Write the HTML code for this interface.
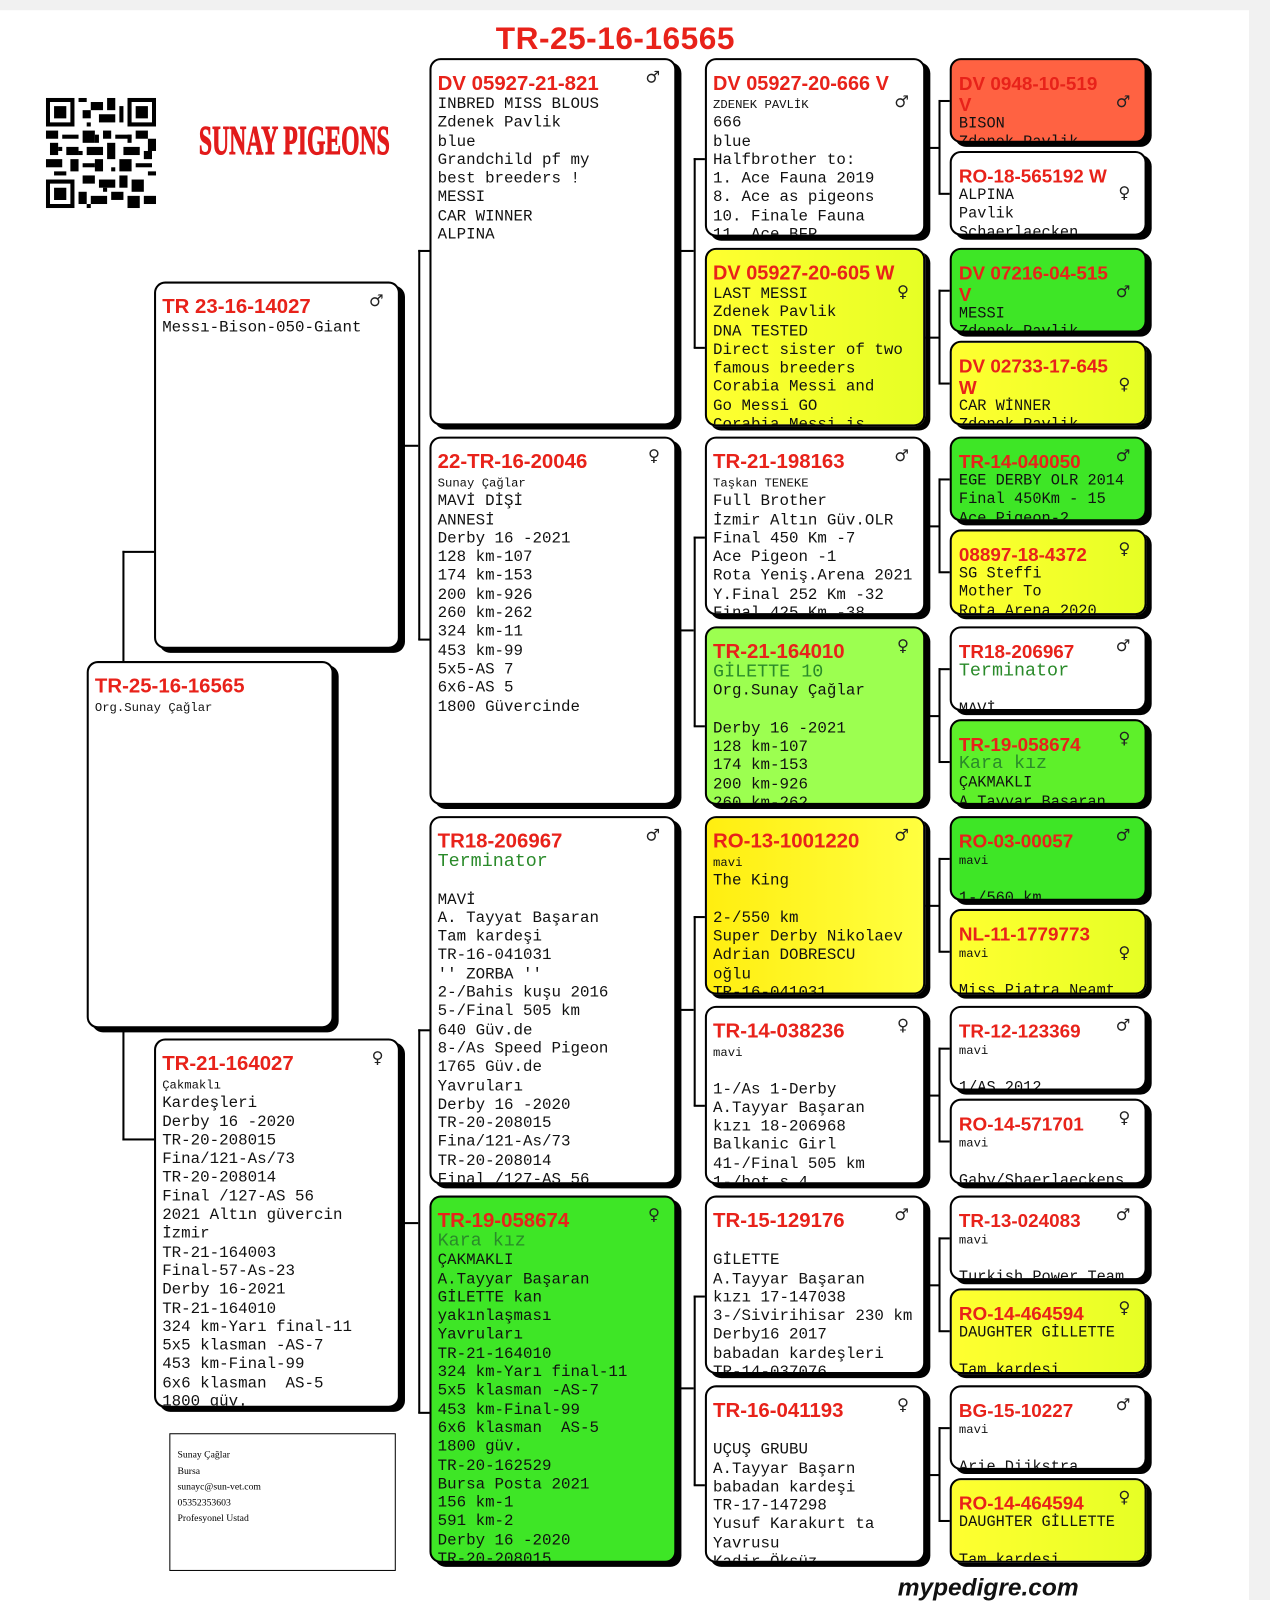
<!DOCTYPE html>
<html><head><meta charset="utf-8">
<style>
body{margin:0;width:1270px;height:1600px;background:#fff;position:relative;overflow:hidden;font-family:"Liberation Mono","Noto Serif CJK SC",monospace;}
#w{position:absolute;left:0;top:0;width:1245px;height:1569px;transform:scale(1.0201);transform-origin:0 0;}
.b{position:absolute;box-sizing:border-box;border:2px solid #000;border-radius:11px;box-shadow:5px 4px 0 #000;overflow:hidden;background:#fff;padding:12px 0 0 6px;font-size:15.5px;line-height:18.3px;color:#111;white-space:pre;}
.t{color:#e8221a;font-family:"Liberation Sans",sans-serif;font-weight:bold;font-size:20px;line-height:22px;white-space:normal;padding-right:30px;}
.n .t{padding-right:0;font-size:19.5px;white-space:nowrap}
.g{position:absolute;right:14px;top:8px;font-size:16px;color:#222;font-family:"DejaVu Sans",sans-serif;}
.s{font-size:12px;line-height:15px;}
.gr{color:#2a8a2a;font-size:18px;}
.w{background:#fff}
.y{background:linear-gradient(90deg,#ffff30,#e6ff25)}
.yo{background:linear-gradient(90deg,#ffee10,#ffff40)}
.G{background:#3ee626}
.lg{background:#9cff50}
.o{background:#ff6242}
.l{position:absolute;background:#000;}
.c5{font-size:15px;padding-left:7px}
.c5 .t{font-size:18.5px;line-height:21px}
</style></head><body>
<div style="position:absolute;left:1249px;top:0;width:21px;height:1600px;background:#f1f1f1"></div>
<div id="w">
<div style="position:absolute;left:0;top:0;width:1225px;height:10px;background:#f1f1f1"></div>
<div style="position:absolute;left:486px;top:20px;font:bold 31px 'Liberation Sans',sans-serif;color:#e8221a;letter-spacing:0.5px">TR-25-16-16565</div>
<svg style="position:absolute;left:45px;top:96px" width="108" height="108" viewBox="0 0 27 27">
<rect width="27" height="27" fill="#fff"/>
<g fill="#000">
<path d="M0 0h7v7h-7zM1 1v5h5v-5zM2 2h3v3h-3z" fill-rule="evenodd"/>
<path d="M20 0h7v7h-7zM21 1v5h5v-5zM22 2h3v3h-3z" fill-rule="evenodd"/>
<path d="M0 20h7v7h-7zM1 21v5h5v-5zM2 22h3v3h-3z" fill-rule="evenodd"/>
<rect x="8" y="0" width="2" height="1"/><rect x="11" y="1" width="3" height="2"/><rect x="15" y="0" width="2" height="3"/><rect x="9" y="3" width="2" height="2"/><rect x="13" y="4" width="4" height="2"/><rect x="18" y="2" width="1" height="4"/>
<rect x="0" y="8" width="3" height="2"/><rect x="4" y="9" width="4" height="1"/><rect x="9" y="8" width="3" height="3"/><rect x="14" y="8" width="2" height="2"/><rect x="17" y="9" width="4" height="1"/><rect x="22" y="8" width="3" height="2"/><rect x="25" y="10" width="2" height="3"/>
<rect x="1" y="11" width="2" height="3"/><rect x="5" y="12" width="3" height="2"/><rect x="10" y="12" width="4" height="2"/><rect x="15" y="11" width="2" height="4"/><rect x="19" y="12" width="4" height="2"/><rect x="0" y="15" width="4" height="2"/><rect x="6" y="15" width="2" height="3"/><rect x="9" y="16" width="3" height="1"/><rect x="12" y="15" width="2" height="3"/><rect x="18" y="15" width="3" height="3"/><rect x="22" y="16" width="4" height="1"/>
<rect x="9" y="19" width="3" height="2"/><rect x="13" y="20" width="4" height="2"/><rect x="18" y="19" width="2" height="3"/><rect x="21" y="20" width="3" height="3"/><rect x="8" y="23" width="2" height="3"/><rect x="11" y="24" width="4" height="2"/><rect x="16" y="23" width="3" height="2"/><rect x="20" y="24" width="3" height="3"/><rect x="24" y="24" width="3" height="2"/><rect x="2" y="18" width="3" height="1"/>
<rect x="10" y="6" width="1" height="1"/><rect x="12" y="9" width="1" height="2"/><rect x="3" y="12" width="1" height="1"/><rect x="16" y="17" width="1" height="1"/><rect x="24" y="13" width="2" height="2"/><rect x="8" y="13" width="1" height="1"/><rect x="20" y="9" width="1" height="2"/><rect x="25" y="18" width="2" height="1"/><rect x="14" y="22" width="1" height="1"/><rect x="10" y="26" width="1" height="1"/>
</g></svg>
<div style="position:absolute;left:195px;top:114px;font:bold 40px 'Liberation Serif',serif;color:#e21b1b;transform:scaleX(0.58);transform-origin:left;white-space:nowrap;letter-spacing:0px;-webkit-text-stroke:1px #e21b1b">SUNAY PIGEONS</div>

<!-- connectors -->
<div class="l" style="left:120px;top:540px;width:2px;height:108px"></div><div class="l" style="left:120px;top:540px;width:31px;height:2px"></div>
<div class="l" style="left:120px;top:1008px;width:2px;height:110px"></div><div class="l" style="left:120px;top:1116px;width:31px;height:2px"></div>
<div class="l" style="left:410px;top:245px;width:2px;height:382px"></div><div class="l" style="left:392px;top:436px;width:18px;height:2px"></div><div class="l" style="left:410px;top:245px;width:11px;height:2px"></div><div class="l" style="left:410px;top:626px;width:11px;height:2px"></div>
<div class="l" style="left:410px;top:1009px;width:2px;height:376px"></div><div class="l" style="left:392px;top:1198px;width:18px;height:2px"></div><div class="l" style="left:410px;top:1009px;width:11px;height:2px"></div><div class="l" style="left:410px;top:1384px;width:11px;height:2px"></div>
<div class="l" style="left:680px;top:155px;width:2px;height:186px"></div><div class="l" style="left:663px;top:245px;width:17px;height:2px"></div><div class="l" style="left:680px;top:155px;width:11px;height:2px"></div><div class="l" style="left:680px;top:340px;width:11px;height:2px"></div>
<div class="l" style="left:680px;top:526px;width:2px;height:186px"></div><div class="l" style="left:663px;top:617px;width:17px;height:2px"></div><div class="l" style="left:680px;top:526px;width:11px;height:2px"></div><div class="l" style="left:680px;top:711px;width:11px;height:2px"></div>
<div class="l" style="left:680px;top:898px;width:2px;height:186px"></div><div class="l" style="left:663px;top:989px;width:17px;height:2px"></div><div class="l" style="left:680px;top:898px;width:11px;height:2px"></div><div class="l" style="left:680px;top:1083px;width:11px;height:2px"></div>
<div class="l" style="left:680px;top:1270px;width:2px;height:186px"></div><div class="l" style="left:663px;top:1360px;width:17px;height:2px"></div><div class="l" style="left:680px;top:1270px;width:11px;height:2px"></div><div class="l" style="left:680px;top:1455px;width:11px;height:2px"></div>
<div class="l" style="left:920px;top:98px;width:2px;height:92px"></div><div class="l" style="left:907px;top:144px;width:13px;height:2px"></div><div class="l" style="left:920px;top:98px;width:11px;height:2px"></div><div class="l" style="left:920px;top:189px;width:11px;height:2px"></div>
<div class="l" style="left:920px;top:284px;width:2px;height:92px"></div><div class="l" style="left:907px;top:330px;width:13px;height:2px"></div><div class="l" style="left:920px;top:284px;width:11px;height:2px"></div><div class="l" style="left:920px;top:375px;width:11px;height:2px"></div>
<div class="l" style="left:920px;top:469px;width:2px;height:92px"></div><div class="l" style="left:907px;top:515px;width:13px;height:2px"></div><div class="l" style="left:920px;top:469px;width:11px;height:2px"></div><div class="l" style="left:920px;top:560px;width:11px;height:2px"></div>
<div class="l" style="left:920px;top:655px;width:2px;height:92px"></div><div class="l" style="left:907px;top:701px;width:13px;height:2px"></div><div class="l" style="left:920px;top:655px;width:11px;height:2px"></div><div class="l" style="left:920px;top:746px;width:11px;height:2px"></div>
<div class="l" style="left:920px;top:841px;width:2px;height:92px"></div><div class="l" style="left:907px;top:887px;width:13px;height:2px"></div><div class="l" style="left:920px;top:841px;width:11px;height:2px"></div><div class="l" style="left:920px;top:932px;width:11px;height:2px"></div>
<div class="l" style="left:920px;top:1027px;width:2px;height:92px"></div><div class="l" style="left:907px;top:1073px;width:13px;height:2px"></div><div class="l" style="left:920px;top:1027px;width:11px;height:2px"></div><div class="l" style="left:920px;top:1118px;width:11px;height:2px"></div>
<div class="l" style="left:920px;top:1213px;width:2px;height:92px"></div><div class="l" style="left:907px;top:1259px;width:13px;height:2px"></div><div class="l" style="left:920px;top:1213px;width:11px;height:2px"></div><div class="l" style="left:920px;top:1304px;width:11px;height:2px"></div>
<div class="l" style="left:920px;top:1399px;width:2px;height:92px"></div><div class="l" style="left:907px;top:1445px;width:13px;height:2px"></div><div class="l" style="left:920px;top:1399px;width:11px;height:2px"></div><div class="l" style="left:920px;top:1490px;width:11px;height:2px"></div>

<!-- gen1 -->
<div class="b" style="left:85px;top:648px;width:242px;height:360px"><div class="t">TR-25-16-16565</div><span class="s">Org.Sunay Çağlar</span></div>
<!-- gen2 -->
<div class="b" style="left:151px;top:276px;width:241px;height:360px"><span class="g">♂</span><div class="t">TR 23-16-14027</div>Messı-Bison-050-Giant</div>
<div class="b" style="left:151px;top:1018px;width:241px;height:362px"><span class="g">♀</span><div class="t">TR-21-164027</div><span class="s">Çakmaklı</span>
Kardeşleri
Derby 16 -2020
TR-20-208015
Fina/121-As/73
TR-20-208014
Final /127-AS 56
2021 Altın güvercin
İzmir
TR-21-164003
Final-57-As-23
Derby 16-2021
TR-21-164010
324 km-Yarı final-11
5x5 klasman -AS-7
453 km-Final-99
6x6 klasman  AS-5
1800 güv.</div>
<div style="position:absolute;left:166px;top:1405px;width:222px;height:135px;box-sizing:border-box;border:1.5px solid #000;padding:14px 0 0 7px;font:9.5px/15.5px 'Liberation Serif',serif;white-space:pre">Sunay Çağlar
Bursa
sunayc@sun-vet.com
05352353603
Profesyonel Ustad</div>

<!-- gen3 -->
<div class="b" style="left:421px;top:57px;width:242px;height:360px"><span class="g">♂</span><div class="t">DV 05927-21-821</div>INBRED MISS BLOUS
Zdenek Pavlik
blue
Grandchild pf my
best breeders !
MESSI
CAR WINNER
ALPINA</div>
<div class="b" style="left:421px;top:428px;width:242px;height:361px"><span class="g">♀</span><div class="t">22-TR-16-20046</div><span class="s">Sunay Çağlar</span>
MAVİ DİŞİ
ANNESİ
Derby 16 -2021
128 km-107
174 km-153
200 km-926
260 km-262
324 km-11
453 km-99
5x5-AS 7
6x6-AS 5
1800 Güvercinde</div>
<div class="b" style="left:421px;top:800px;width:242px;height:361px"><span class="g">♂</span><div class="t">TR18-206967</div><span class="gr">Terminator</span>

MAVİ
A. Tayyat Başaran
Tam kardeşi
TR-16-041031
'' ZORBA ''
2-/Bahis kuşu 2016
5-/Final 505 km
640 Güv.de
8-/As Speed Pigeon
1765 Güv.de
Yavruları
Derby 16 -2020
TR-20-208015
Fina/121-As/73
TR-20-208014
Final /127-AS 56</div>
<div class="b G" style="left:421px;top:1172px;width:242px;height:360px"><span class="g">♀</span><div class="t">TR-19-058674</div><span class="gr">Kara kız</span>
ÇAKMAKLI
A.Tayyar Başaran
GİLETTE kan
yakınlaşması
Yavruları
TR-21-164010
324 km-Yarı final-11
5x5 klasman -AS-7
453 km-Final-99
6x6 klasman  AS-5
1800 güv.
TR-20-162529
Bursa Posta 2021
156 km-1
591 km-2
Derby 16 -2020
TR-20-208015</div>

<!-- gen4 -->
<div class="b w n" style="left:691px;top:57px;width:216px;height:175px"><span class="g" style="top:32px">♂</span><div class="t">DV 05927-20-666 V</div><span class="s">ZDENEK PAVLİK</span>
666
blue
Halfbrother to:
1. Ace Fauna 2019
8. Ace as pigeons
10. Finale Fauna
11. Ace BFP</div>
<div class="b y n" style="left:691px;top:243px;width:216px;height:175px"><span class="g" style="top:32px">♀</span><div class="t">DV 05927-20-605 W</div>LAST MESSI
Zdenek Pavlik
DNA TESTED
Direct sister of two
famous breeders
Corabia Messi and
Go Messi GO
Corabia Messi is</div>
<div class="b w" style="left:691px;top:428px;width:216px;height:175px"><span class="g">♂</span><div class="t">TR-21-198163</div><span class="s">Taşkan TENEKE</span>
Full Brother
İzmir Altın Güv.OLR
Final 450 Km -7
Ace Pigeon -1
Rota Yeniş.Arena 2021
Y.Final 252 Km -32
Final 425 Km -38</div>
<div class="b lg" style="left:691px;top:614px;width:216px;height:175px"><span class="g">♀</span><div class="t">TR-21-164010</div><span class="gr">GİLETTE 10</span>
Org.Sunay Çağlar

Derby 16 -2021
128 km-107
174 km-153
200 km-926
260 km-262</div>
<div class="b yo" style="left:691px;top:800px;width:216px;height:175px"><span class="g">♂</span><div class="t">RO-13-1001220</div><span class="s">mavi</span>
The King

2-/550 km
Super Derby Nikolaev
Adrian DOBRESCU
oğlu
TR-16-041031</div>
<div class="b w" style="left:691px;top:986px;width:216px;height:175px"><span class="g">♀</span><div class="t">TR-14-038236</div><span class="s">mavi</span>

1-/As 1-Derby
A.Tayyar Başaran
kızı 18-206968
Balkanic Girl
41-/Final 505 km
1-/hot s 4</div>
<div class="b w" style="left:691px;top:1172px;width:216px;height:175px"><span class="g">♂</span><div class="t">TR-15-129176</div>
GİLETTE
A.Tayyar Başaran
kızı 17-147038
3-/Sivirihisar 230 km
Derby16 2017
babadan kardeşleri
TR-14-037076</div>
<div class="b w" style="left:691px;top:1358px;width:216px;height:174px"><span class="g">♀</span><div class="t">TR-16-041193</div>
UÇUŞ GRUBU
A.Tayyar Başarn
babadan kardeşi
TR-17-147298
Yusuf Karakurt ta
Yavrusu
Kadir Öksüz</div>

<!-- gen5 -->
<div class="b c5 o" style="left:931px;top:57px;width:193px;height:83px"><span class="g" style="top:32px">♂</span><div class="t">DV 0948-10-519 V</div>BISON
Zdenek Pavlik</div>
<div class="b c5 w" style="left:931px;top:148px;width:193px;height:83px"><span class="g" style="top:30px">♀</span><div class="t">RO-18-565192 W</div>ALPINA
Pavlik
Schaerlaecken</div>
<div class="b c5 G" style="left:931px;top:243px;width:193px;height:83px"><span class="g" style="top:32px">♂</span><div class="t">DV 07216-04-515 V</div>MESSI
Zdenek Pavlik</div>
<div class="b c5 y" style="left:931px;top:334px;width:193px;height:83px"><span class="g" style="top:32px">♀</span><div class="t">DV 02733-17-645 W</div>CAR WİNNER
Zdenek Pavlik</div>
<div class="b c5 G" style="left:931px;top:428px;width:193px;height:83px"><span class="g">♂</span><div class="t">TR-14-040050</div>EGE DERBY OLR 2014
Final 450Km - 15
Ace Pigeon-2</div>
<div class="b c5 y" style="left:931px;top:519px;width:193px;height:84px"><span class="g">♀</span><div class="t">08897-18-4372</div>SG Steffi
Mother To
Rota Arena 2020</div>
<div class="b c5 w" style="left:931px;top:614px;width:193px;height:83px"><span class="g">♂</span><div class="t">TR18-206967</div><span class="gr">Terminator</span>

MAVİ</div>
<div class="b c5 G" style="left:931px;top:705px;width:193px;height:84px;background:#5ef02a"><span class="g">♀</span><div class="t">TR-19-058674</div><span class="gr">Kara kız</span>
ÇAKMAKLI
A.Tayyar Başaran</div>
<div class="b c5 G" style="left:931px;top:800px;width:193px;height:83px"><span class="g">♂</span><div class="t">RO-03-00057</div><span class="s">mavi</span>

1-/560 km</div>
<div class="b c5 y" style="left:931px;top:891px;width:193px;height:84px"><span class="g" style="top:32px">♀</span><div class="t">NL-11-1779773</div><span class="s">mavi</span>

Miss Piatra Neamt</div>
<div class="b c5 w" style="left:931px;top:986px;width:193px;height:83px"><span class="g">♂</span><div class="t">TR-12-123369</div><span class="s">mavi</span>

1/AS 2012</div>
<div class="b c5 w" style="left:931px;top:1077px;width:193px;height:84px"><span class="g">♀</span><div class="t">RO-14-571701</div><span class="s">mavi</span>

Gaby/Shaerlaeckens</div>
<div class="b c5 w" style="left:931px;top:1172px;width:193px;height:83px"><span class="g">♂</span><div class="t">TR-13-024083</div><span class="s">mavi</span>

Turkish Power Team</div>
<div class="b c5 y" style="left:931px;top:1263px;width:193px;height:84px"><span class="g">♀</span><div class="t">RO-14-464594</div>DAUGHTER GİLLETTE

Tam kardeşi</div>
<div class="b c5 w" style="left:931px;top:1358px;width:193px;height:83px"><span class="g">♂</span><div class="t">BG-15-10227</div><span class="s">mavi</span>

Arie Dijkstra</div>
<div class="b c5 y" style="left:931px;top:1449px;width:193px;height:83px"><span class="g">♀</span><div class="t">RO-14-464594</div>DAUGHTER GİLLETTE

Tam kardeşi</div>

<div style="position:absolute;left:880px;top:1543px;font:italic bold 24px 'Liberation Sans',sans-serif;color:#111">mypedigre.com</div>
</div>
</body></html>
